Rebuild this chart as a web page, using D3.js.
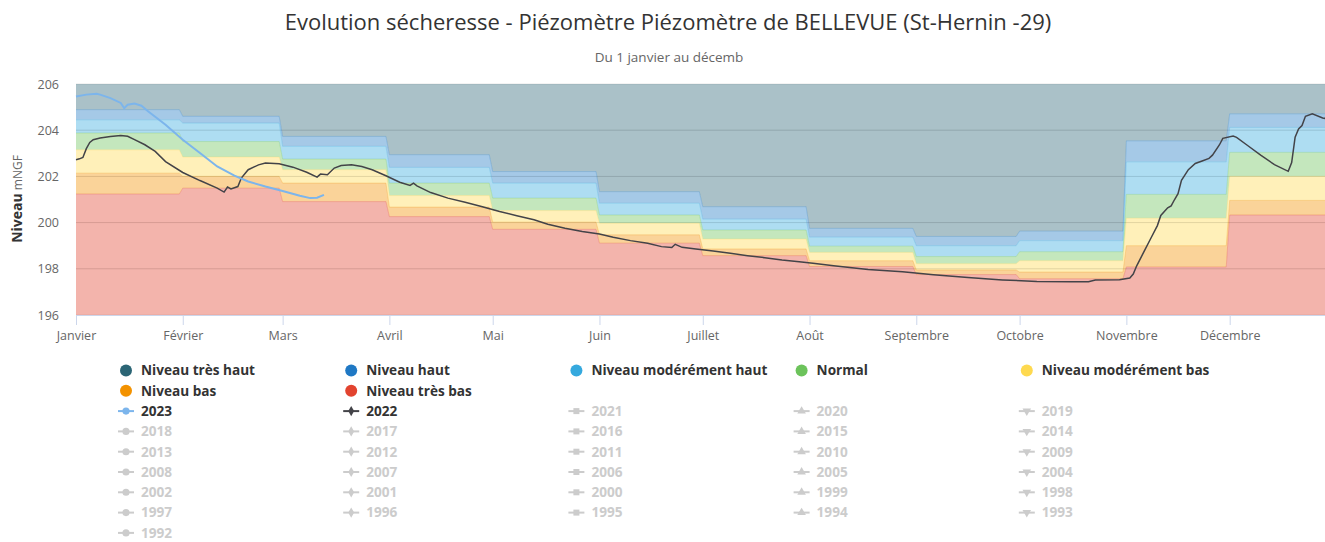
<!DOCTYPE html>
<html>
<head>
<meta charset="utf-8">
<script src="https://cdn.jsdelivr.net/npm/d3@7"></script>
<style>
  html, body { margin: 0; padding: 0; background: #fff; overflow: hidden; }
  text { font-family: "Open Sans", sans-serif; }
</style>
</head>
<body>
<div class="canvas"></div>
<script>
// monthly thresholds (upper limit of each band, mNGF)
const months = ["Janvier","Février","Mars","Avril","Mai","Juin","Juillet","Août","Septembre","Octobre","Novembre","Décembre"];
const tresBas  = [201.24,201.49,200.91,200.26,199.71,199.11,198.57,198.10,197.75,197.57,198.08,200.33];
const bas      = [202.14,202.00,201.71,200.67,200.02,199.47,198.86,198.35,197.95,197.86,199.00,200.96];
const modBas   = [203.15,202.84,202.29,201.17,200.52,199.97,199.29,198.71,198.22,198.35,200.19,202.00];
const normal   = [203.88,203.51,202.75,201.71,201.06,200.33,199.68,198.98,198.53,198.74,201.22,203.04];
const modHaut  = [204.45,204.31,203.30,202.39,201.71,200.84,200.15,199.37,199.00,199.22,202.63,204.12];
const haut     = [204.89,204.60,203.73,202.94,202.21,201.34,200.69,199.75,199.40,199.63,203.54,204.71];

const bandNames  = ["Niveau très haut","Niveau haut","Niveau modérément haut","Normal","Niveau modérément bas","Niveau bas","Niveau très bas"];
const bandColors = ["#2b6575","#1f78c4","#35a9de","#6cc35b","#fed94f","#f39200","#e2432f"];

// piezometric level readings
const serie2023 = [
  ["01-01",205.46],["01-04",205.54],["01-07",205.58],["01-08",205.54],["01-11",205.39],
  ["01-14",205.18],["01-15",204.95],["01-16",205.10],["01-18",205.15],["01-20",205.06],
  ["01-22",204.81],["01-27",204.24],["02-01",203.59],["02-06",203.01],["02-11",202.43],
  ["02-16",202.03],["02-20",201.78],["02-25",201.56],["03-01",201.37],["03-06",201.16],
  ["03-09",201.06],["03-11",201.08],["03-13",201.20]
];
const serie2022 = [
  ["01-01",202.72],["01-02",202.76],["01-03",202.82],["01-04",203.20],["01-05",203.47],
  ["01-06",203.59],["01-08",203.66],["01-11",203.73],["01-14",203.77],["01-16",203.74],
  ["01-18",203.59],["01-21",203.37],["01-24",203.08],["01-27",202.64],["02-01",202.17],
  ["02-06",201.82],["02-11",201.49],["02-13",201.32],["02-14",201.54],["02-15",201.46],
  ["02-17",201.56],["02-18",201.93],["02-20",202.29],["02-23",202.50],["02-25",202.58],
  ["02-29",202.55],["03-04",202.40],["03-08",202.18],["03-11",201.97],["03-12",202.10],
  ["03-14",202.07],["03-16",202.36],["03-18",202.47],["03-21",202.50],["03-24",202.43],
  ["03-27",202.29],["03-31",202.03],["04-04",201.75],["04-07",201.61],["04-08",201.71],
  ["04-09",201.59],["04-13",201.30],["04-18",201.06],["04-23",200.88],["04-28",200.69],
  ["05-03",200.48],["05-08",200.30],["05-13",200.12],["05-17",199.93],["05-22",199.76],
  ["05-27",199.61],["06-01",199.51],["06-05",199.37],["06-10",199.22],["06-15",199.11],
  ["06-19",198.96],["06-22",198.92],["06-23",199.06],["06-25",198.93],["06-29",198.86],
  ["07-04",198.77],["07-09",198.67],["07-14",198.57],["07-19",198.48],["07-24",198.38],
  ["07-29",198.31],["08-02",198.24],["08-08",198.13],["08-18",197.97],["08-28",197.87],
  ["09-06",197.74],["09-16",197.62],["09-26",197.52],["10-06",197.45],["10-16",197.44],
  ["10-21",197.44],["10-23",197.51],["10-30",197.53],["11-02",197.60],["11-03",197.77],
  ["11-04",198.13],["11-06",198.71],["11-08",199.29],["11-10",199.87],["11-11",200.31],
  ["11-13",200.64],["11-14",200.72],["11-15",201.00],["11-16",201.25],["11-17",201.83],
  ["11-19",202.29],["11-21",202.56],["11-23",202.67],["11-25",202.78],["11-26",202.92],
  ["11-28",203.36],["11-29",203.65],["12-02",203.75],["12-03",203.69],["12-06",203.36],
  ["12-10",202.92],["12-14",202.51],["12-18",202.22],["12-19",202.60],["12-20",203.70],
  ["12-21",204.05],["12-22",204.20],["12-23",204.60],["12-25",204.71],["12-28",204.53],
  ["12-31",204.45]
];

const years = ["2023","2022","2021","2020","2019","2018","2017","2016","2015","2014","2013","2012","2011","2010","2009",
  "2008","2007","2006","2005","2004","2002","2001","2000","1999","1998","1997","1996","1995","1994","1993","1992"];
const yTicks = [196,198,200,202,204,206];

const width = 1343, height = 542;
const margin = {top: 84, right: 10, bottom: 227, left: 76};

const svg = d3.select(".canvas").append("svg")
  .attr("width", width).attr("height", height);

const parse = d3.timeParse("%Y-%m-%d");
const day = s => parse("2024-" + s);

const x = d3.scaleTime()
  .domain([new Date(2024,0,1), new Date(2024,11,31)])
  .range([margin.left, width - margin.right]);
const y = d3.scaleLinear()
  .domain([196, 206])
  .range([height - margin.bottom, margin.top]);

// titles
svg.append("text").attr("x", 668).attr("y", 30)
  .attr("text-anchor","middle").attr("fill","#333").style("font-size","22px")
  .text("Evolution sécheresse - Piézomètre Piézomètre de BELLEVUE (St-Hernin -29)");
svg.append("text").attr("x", 669).attr("y", 62)
  .attr("text-anchor","middle").attr("fill","#666").style("font-size","13.5px")
  .text("Du 1 janvier au décemb");

// gridlines
svg.append("g").selectAll("line").data(yTicks).join("line")
  .attr("x1", margin.left).attr("x2", width - margin.right)
  .attr("y1", d => y(d)).attr("y2", d => y(d))
  .attr("stroke","#e6e6e6");

// band points: start and last day of each month
const monthPoints = (arr) => {
  const pts = [];
  arr.forEach((v, m) => {
    const start = new Date(2024, m, 1);
    const end = m === 11 ? new Date(2024, 11, 31) : d3.timeDay.offset(new Date(2024, m + 1, 1), -1);
    pts.push({d: start, v}, {d: end, v});
  });
  return pts;
};
const top206 = months.map(() => 206);
const bounds = [top206, haut, modHaut, normal, modBas, bas, tresBas, months.map(() => 196)];

const bandG = svg.append("g");
bandNames.forEach((name, i) => {
  const hi = monthPoints(bounds[i]);
  const lo = monthPoints(bounds[i + 1]);
  const pts = hi.map((p, k) => ({d: p.d, hi: p.v, lo: lo[k].v}));
  bandG.append("path").datum(pts)
    .attr("fill", bandColors[i]).attr("fill-opacity", 0.4)
    .attr("d", d3.area().x(p => x(p.d)).y0(p => y(p.lo)).y1(p => y(p.hi)));
  if (i > 0) {
    bandG.append("path").datum(pts)
      .attr("fill","none").attr("stroke", bandColors[i]).attr("stroke-opacity", 0.25)
      .attr("d", d3.line().x(p => x(p.d)).y(p => y(p.hi)));
  }
});

// gridlines showing through the bands
svg.append("g").selectAll("line").data(yTicks.slice(1, -1)).join("line")
  .attr("x1", margin.left).attr("x2", width - margin.right)
  .attr("y1", d => y(d)).attr("y2", d => y(d))
  .attr("stroke","#000").attr("stroke-opacity", 0.06);

// lines
const line = d3.line().x(p => x(day(p[0]))).y(p => y(p[1]));
svg.append("path").datum(serie2022)
  .attr("fill","none").attr("stroke","#434348").attr("stroke-width",1.5).attr("d", line);
svg.append("path").datum(serie2023)
  .attr("fill","none").attr("stroke","#7cb5ec").attr("stroke-width",2).attr("d", line);

// x axis
const xAxis = d3.axisBottom(x)
  .tickValues(months.map((m, i) => new Date(2024, i, 1)))
  .tickFormat((d, i) => months[i]).tickSize(10).tickPadding(6);
const gx = svg.append("g").attr("transform", `translate(0,${y(196)})`).call(xAxis);
gx.select(".domain").attr("stroke","#ccd6eb");
gx.selectAll(".tick line").attr("stroke","#ccd6eb");
gx.selectAll(".tick text").attr("fill","#666").style("font-size","12.5px").style("font-family","Open Sans");

// y axis
const yAxis = d3.axisLeft(y).tickValues(yTicks).tickFormat(d3.format("d")).tickSize(0).tickPadding(17);
const gy = svg.append("g").attr("transform", `translate(${margin.left},0)`).call(yAxis);
gy.select(".domain").remove();
gy.selectAll(".tick text").attr("fill","#666").style("font-size","12.5px").style("font-family","Open Sans");

const yTitle = svg.append("text").attr("transform","translate(22,199) rotate(-90)")
  .attr("text-anchor","middle").attr("fill","#333");
yTitle.append("tspan").style("font-weight","bold").style("font-size","14px").text("Niveau");
yTitle.append("tspan").attr("fill","#666").style("font-size","12px").text("    mNGF");

// legend
const colX = c => 126 + c * 225.2;
const rowY = r => 370.5 + r * 20.3;
const legend = svg.append("g");
bandNames.forEach((name, i) => {
  const cx = colX(i % 5), cy = rowY(Math.floor(i / 5));
  legend.append("circle").attr("cx", cx).attr("cy", cy).attr("r", 6).attr("fill", bandColors[i]);
  legend.append("text").attr("x", cx + 15).attr("y", cy + 4.8)
    .attr("fill","#333").style("font-weight","bold").style("font-size","13.6px").text(name);
});
const symbols = [d3.symbolCircle, d3.symbolDiamond, d3.symbolSquare, d3.symbolTriangle, d3.symbolTriangle];
const symSize = [40, 30, 36, 32, 32];
const yearColor = yr => yr === "2023" ? "#7cb5ec" : yr === "2022" ? "#434348" : "#cccccc";
years.forEach((yr, j) => {
  const c = j % 5;
  const cx = colX(c), cy = rowY(2 + Math.floor(j / 5));
  const col = yearColor(yr);
  legend.append("line").attr("x1", cx - 8).attr("x2", cx + 8).attr("y1", cy).attr("y2", cy)
    .attr("stroke", col).attr("stroke-width", 2);
  legend.append("path")
    .attr("d", d3.symbol().type(symbols[c]).size(symSize[c])())
    .attr("transform", `translate(${cx},${cy})` + (c === 4 ? " rotate(180)" : ""))
    .attr("fill", col);
  legend.append("text").attr("x", cx + 15).attr("y", cy + 4.8)
    .attr("fill", col === "#cccccc" ? "#cccccc" : "#333")
    .style("font-weight","bold").style("font-size","13.6px").text(yr);
});
</script>
</body>
</html>
